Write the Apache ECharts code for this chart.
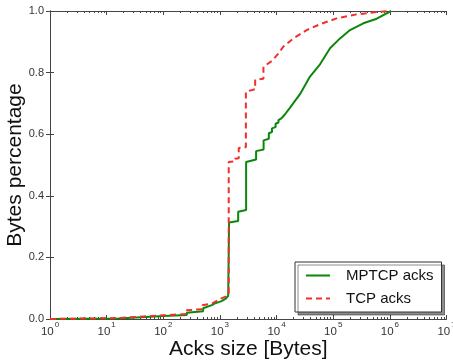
<!DOCTYPE html>
<html>
<head>
<meta charset="utf-8">
<script src="https://cdn.jsdelivr.net/npm/echarts@6/dist/echarts.min.js"></script>
<style>
    html, body { margin: 0; padding: 0; background: #fff; }
    #chart { width: 453px; height: 364px; }
</style>
</head>
<body>
<div id="chart"></div>
<script>
    // ack size in bytes (x) and cumulative bytes fraction (y)
    var mptcpSize = [1, 16, 100, 260, 260, 505, 505, 720, 800, 1070, 1250, 1400, 1450, 1450, 2100, 2100, 2900, 2900,
        4350, 4350, 5900, 5900, 7300, 7300, 8300, 8300, 9600, 9600, 10800, 10800, 12300, 14000, 17300, 25900,
        38900, 58500, 87900, 132000, 198000, 340000, 586000, 1050000];
    var mptcpPct = [0, 0.002, 0.01, 0.013, 0.02, 0.025, 0.035, 0.045, 0.05, 0.058, 0.065, 0.075, 0.08, 0.313, 0.318, 0.348, 0.354, 0.51,
        0.518, 0.545, 0.55, 0.58, 0.585, 0.603, 0.607, 0.619, 0.623, 0.634, 0.638, 0.646, 0.652, 0.664, 0.686, 0.73,
        0.787, 0.827, 0.879, 0.911, 0.938, 0.96, 0.975, 1.0];

    var tcpSize = [1, 16, 100, 250, 250, 490, 490, 720, 1000, 1350, 1430, 1430, 1850, 1850, 2150, 2150, 2870, 2870,
        4190, 4190, 5860, 5860, 8260, 10800, 13100, 19800, 34000, 58500, 115000, 260000, 586000, 1050000];
    var tcpPct = [0, 0.003, 0.012, 0.016, 0.028, 0.032, 0.045, 0.05, 0.065, 0.075, 0.085, 0.51, 0.512, 0.52, 0.522, 0.555, 0.558, 0.738,
        0.746, 0.776, 0.78, 0.819, 0.838, 0.862, 0.884, 0.911, 0.938, 0.957, 0.976, 0.989, 0.997, 1.0];

    var minorMults = [2, 3, 4, 5, 6, 7, 8, 9];
    var decades = [0, 1, 2, 3, 4, 5, 6];

    // minor log ticks, placed on a hidden linear axis in log10 space
    var minorTicks = [];
    decades.forEach(function (d) {
        minorMults.forEach(function (m) {
            minorTicks.push(Math.log10(m * Math.pow(10, d)));
        });
    });

    function pairs(xs, ys) {
        return xs.map(function (x, i) { return [x, ys[i]]; });
    }

    var font = '"Liberation Sans", Arial, sans-serif';
    var frame = '#444';

    var myChart = echarts.init(document.getElementById('chart'));
    var option = {
        animation: false,
        grid: {
            left: 50,
            right: 6.5,
            top: 11,
            bottom: 45,
            containLabel: false,
            outerBoundsMode: 'none'
        },
        legend: {
            orient: 'vertical',
            left: 295,
            top: 262,
            padding: [6, 8, 6, 10],
            itemGap: 8,
            itemWidth: 24,
            itemHeight: 14,
            backgroundColor: '#fff',
            borderColor: '#333',
            borderWidth: 1,
            borderRadius: 0,
            shadowColor: 'rgba(0,0,0,0.45)',
            shadowBlur: 0,
            shadowOffsetX: 3,
            shadowOffsetY: 3,
            itemStyle: { opacity: 0 },
            textStyle: {
                fontFamily: font,
                fontSize: 15,
                color: '#111',
                padding: [0, 0, 0, 11]
            },
            data: ['MPTCP acks', 'TCP acks']
        },
        xAxis: [
            {
                type: 'log',
                logBase: 10,
                min: 1,
                max: 10000000,
                position: 'bottom',
                name: 'Acks size [Bytes]',
                nameLocation: 'middle',
                nameGap: 20,
                nameMoveOverlap: false,
                nameTextStyle: { fontFamily: font, fontSize: 21, color: '#111' },
                axisLine: { lineStyle: { color: frame, width: 1 } },
                axisTick: { inside: true, length: 4, lineStyle: { color: frame } },
                splitLine: { show: false },
                axisLabel: {
                    margin: 2,
                    formatter: function (v) {
                        return '{b|10}{s|' + Math.round(Math.log10(v)) + '}';
                    },
                    rich: {
                        b: { fontFamily: font, fontSize: 11.5, color: '#333', verticalAlign: 'bottom', lineHeight: 17 },
                        s: { fontFamily: font, fontSize: 8, color: '#333', verticalAlign: 'top', lineHeight: 17, padding: [0, 0, 0, 1] }
                    }
                }
            },
            {
                type: 'value',
                min: 0,
                max: 7,
                position: 'bottom',
                axisLine: { show: false },
                axisLabel: { show: false },
                splitLine: { show: false },
                axisTick: { inside: true, length: 2, customValues: minorTicks, lineStyle: { color: frame } }
            },
            {
                type: 'log',
                logBase: 10,
                min: 1,
                max: 10000000,
                position: 'top',
                axisLine: { lineStyle: { color: frame, width: 1 } },
                axisTick: { inside: true, length: 4, lineStyle: { color: frame } },
                axisLabel: { show: false },
                splitLine: { show: false }
            },
            {
                type: 'value',
                min: 0,
                max: 7,
                position: 'top',
                axisLine: { show: false },
                axisLabel: { show: false },
                splitLine: { show: false },
                axisTick: { inside: true, length: 2, customValues: minorTicks, lineStyle: { color: frame } }
            }
        ],
        yAxis: [
            {
                type: 'value',
                min: 0,
                max: 1,
                interval: 0.2,
                position: 'left',
                name: 'Bytes percentage',
                nameLocation: 'middle',
                nameGap: 24,
                nameMoveOverlap: false,
                nameTextStyle: { fontFamily: font, fontSize: 21, color: '#111' },
                axisLine: { show: true, lineStyle: { color: frame, width: 1 } },
                axisTick: { show: true, inside: true, length: 4, lineStyle: { color: frame } },
                splitLine: { show: false },
                axisLabel: {
                    margin: 6,
                    fontFamily: font,
                    fontSize: 11,
                    color: '#333',
                    formatter: function (v) { return v.toFixed(1); }
                }
            },
            {
                type: 'value',
                min: 0,
                max: 1,
                interval: 0.2,
                position: 'right',
                axisLine: { show: true, lineStyle: { color: frame, width: 1 } },
                axisTick: { show: true, inside: true, length: 4, lineStyle: { color: frame } },
                axisLabel: { show: false },
                splitLine: { show: false }
            }
        ],
        series: [
            {
                name: 'MPTCP acks',
                type: 'line',
                symbol: 'none',
                color: '#0b870b',
                lineStyle: { width: 2, color: '#0b870b' },
                data: pairs(mptcpSize, mptcpPct)
            },
            {
                name: 'TCP acks',
                type: 'line',
                symbol: 'none',
                color: '#f0302a',
                lineStyle: { width: 2, color: '#f0302a', type: [6, 4] },
                data: pairs(tcpSize, tcpPct)
            }
        ]
    };
    myChart.setOption(option, true);
</script>
</body>
</html>
